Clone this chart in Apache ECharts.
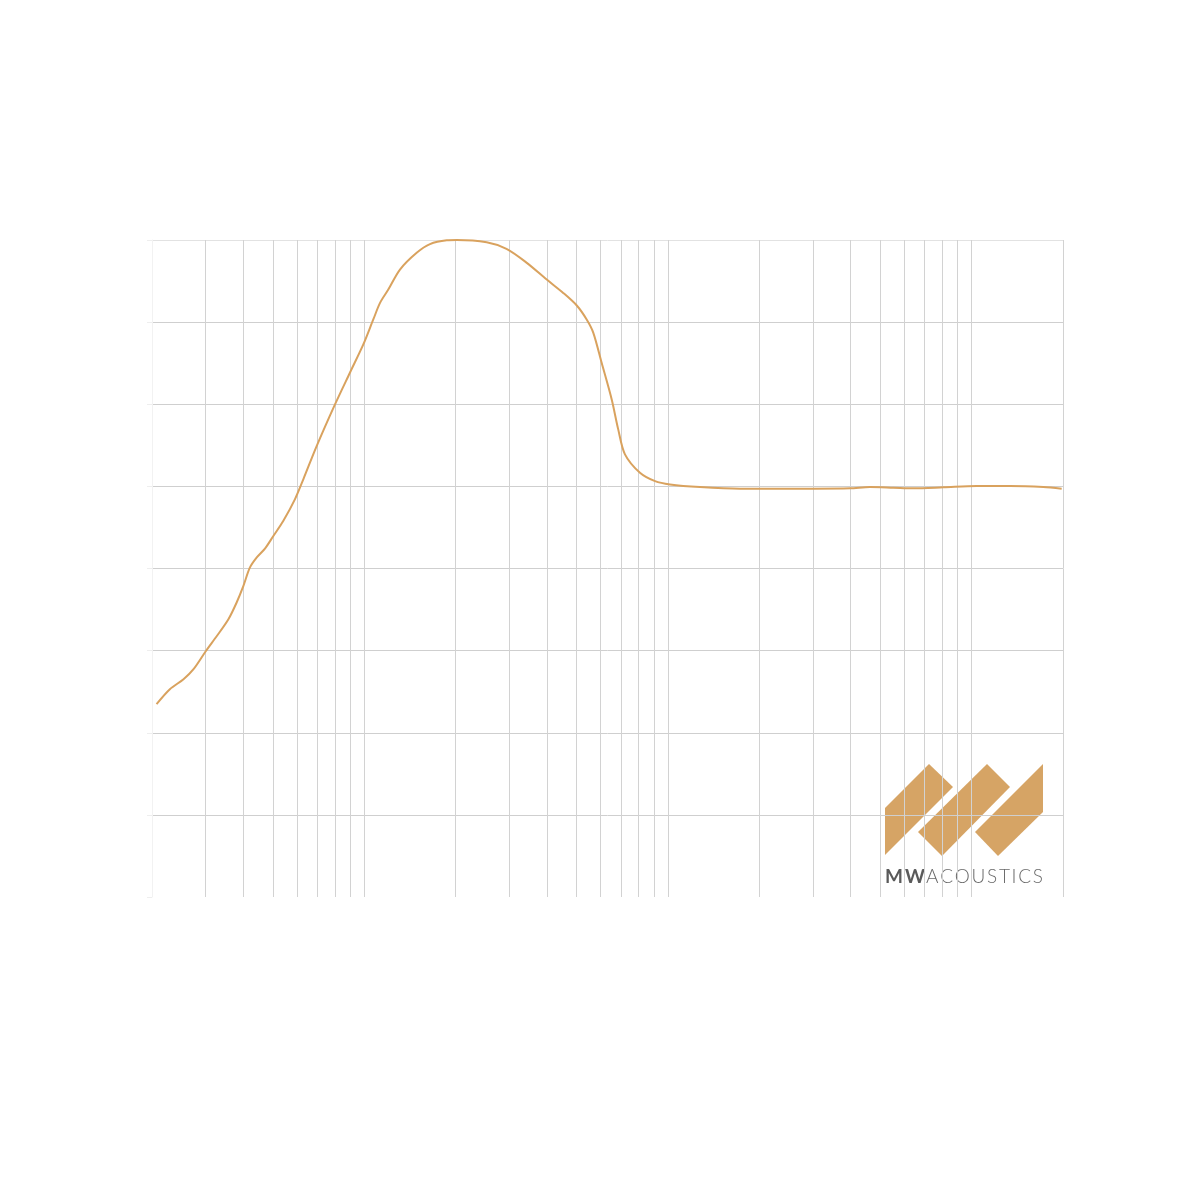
<!DOCTYPE html>
<html>
<head>
<meta charset="utf-8">
<style>
html,body{margin:0;padding:0;background:#fff;}
#chart{width:1200px;height:1200px;}
</style>
<script src="https://cdn.jsdelivr.net/npm/echarts@6/dist/echarts.min.js"></script>
</head>
<body>
<div id="chart"></div>
<script>
// Frequency (Hz) of each point on the response curve
var freqs = [20.7, 22.9, 25.4, 27.4, 30.1, 32.7, 35.7, 38.0, 40.0, 42.0, 44.2, 47.1, 50.2, 54.1, 59.1,
  63.0, 69.7, 80.1, 89.7, 99.3, 107.1, 112.7, 120.0, 131.1, 148.8, 164.6, 186.9, 201.6,
  253, 294, 343, 399, 452, 501, 540, 568, 605, 653, 686, 722, 809, 907, 1016,
  1275, 1727, 3012, 3978, 4628, 5522, 6428, 8070, 10396, 13380, 17224, 19802];
// Level (dB) of each point
var levels = [-13.26, -12.35, -11.74, -11.13, -10.02, -9.11, -8.09, -7.07, -6.06, -4.95, -4.34, -3.79, -3.02, -2.11, -0.79,
  0.43, 2.45, 4.99, 6.92, 8.64, 10.16, 11.17, 11.98, 13.20, 14.22, 14.75, 14.98, 15.0,
  14.86, 14.46, 13.61, 12.59, 11.78, 11.01, 10.16, 9.35, 7.52, 5.29, 3.47, 1.95, 0.83, 0.32, 0.12,
  -0.04, -0.14, -0.14, -0.12, -0.04, -0.08, -0.12, -0.06, 0.02, 0.02, -0.04, -0.14];
// Vertical grid line frequencies (Hz)
var gridFreqs = [30, 40, 50, 60, 70, 80, 90, 100, 200, 300, 400, 500, 600, 700, 800, 900, 1000,
  2000, 3000, 4000, 5000, 6000, 7000, 8000, 9000, 10000, 20000];
var edgeFreq = 20;
// Y axis ticks (dB)
var yMin = -25, yMax = 15, yStep = 5;

var curve = freqs.map(function (f, i) { return [f, levels[i]]; });
var vLines = gridFreqs.map(function (f) { return { xAxis: f }; });
vLines.push({ xAxis: edgeFreq, lineStyle: { color: '#f2f2f2' } });

// spaced logo lettering
var mctx = document.createElement('canvas').getContext('2d');
function spacedText(str, x0, x1, font, fill, baseline) {
  mctx.font = font;
  var widths = str.split('').map(function (c) { return mctx.measureText(c).width; });
  var total = widths.reduce(function (a, b) { return a + b; }, 0);
  var gap = str.length > 1 ? ((x1 - x0) - total) / (str.length - 1) : 0;
  var x = x0, out = [];
  for (var i = 0; i < str.length; i++) {
    out.push({ type: 'text', x: x, y: baseline, silent: true,
      style: { text: str[i], font: font, fill: fill, textVerticalAlign: 'bottom', verticalAlign: 'alphabetic', textBaseline: 'alphabetic' } });
    x += widths[i] + gap;
  }
  return out;
}

var chart = echarts.init(document.getElementById('chart'), null, { renderer: 'canvas' });
var gold = '#D6A465';
var logo = [
  { type: 'polygon', shape: { points: [[885, 808], [929, 764], [953, 787], [885, 855]] }, style: { fill: gold } },
  { type: 'polygon', shape: { points: [[918, 832], [987, 764], [1010, 787], [942, 856]] }, style: { fill: gold } },
  { type: 'polygon', shape: { points: [[975, 832], [1043, 764], [1043, 812], [998, 856]] }, style: { fill: gold } }
].concat(
  spacedText('MW', 885, 925, 'bold 19px Lato', '#5a5a5a', 886),
  spacedText('ACOUSTICS', 926, 1043, '300 19px Lato', '#6a6a6a', 886)
);
// trim last-letter overshoot handled by measuring: adjust so text ends at x1
chart.setOption({
  backgroundColor: '#ffffff',
  animation: false,
  grid: { left: 152, right: 137, top: 240, bottom: 303 },
  xAxis: {
    type: 'log', logBase: 10, min: 20, max: 20000,
    axisLine: { show: false }, axisTick: { show: false }, axisLabel: { show: false },
    splitLine: { show: false }
  },
  yAxis: {
    type: 'value', min: yMin, max: yMax, interval: yStep,
    axisLine: { show: true, lineStyle: { color: '#f3f3f3', width: 1 } },
    axisTick: { show: true, length: 5, lineStyle: { color: '#eeeeee' } },
    axisLabel: { show: false },
    splitLine: { show: true, lineStyle: { color: ['rgba(0,0,0,0)', '#cfcfcf', '#cfcfcf', '#cfcfcf', '#cfcfcf', '#cfcfcf', '#cfcfcf', '#cfcfcf', '#e2e2e2'], width: 1 } }
  },
  series: [
    {
      type: 'line', data: [], z: 1, silent: true,
      markLine: {
        silent: true, symbol: 'none', animation: false,
        label: { show: false },
        lineStyle: { color: '#d2d2d2', width: 1, type: 'solid' },
        data: vLines
      }
    },
    {
      type: 'line', data: curve, z: 5, smooth: 0.3, showSymbol: false,
      lineStyle: { color: '#D9A25E', width: 2 }
    }
  ],
  graphic: logo
});
</script>
</body>
</html>
